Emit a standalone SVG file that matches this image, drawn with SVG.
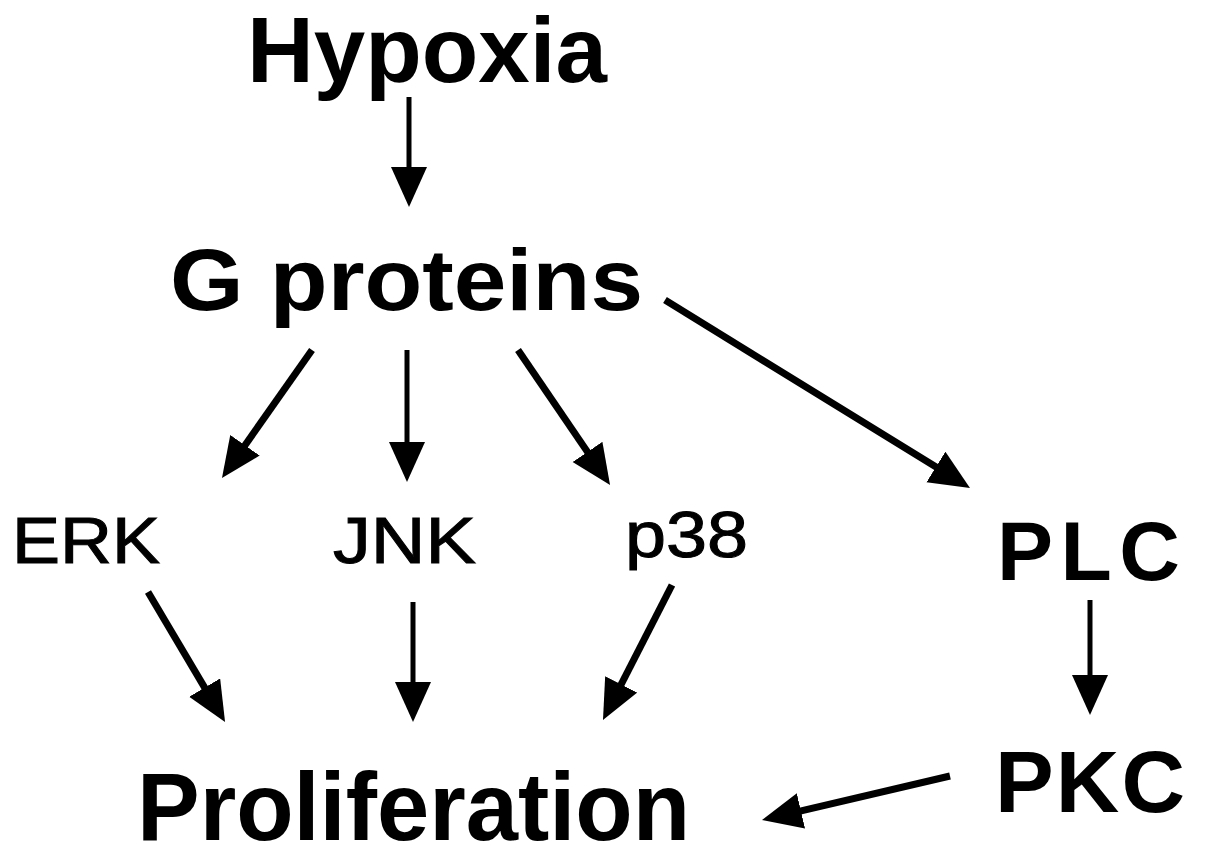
<svg xmlns="http://www.w3.org/2000/svg" width="1205" height="862" viewBox="0 0 1205 862">
<defs>
<style>
.t{font-family:"Liberation Sans",Arial,sans-serif;fill:#000}
.b{font-weight:bold}
.r{stroke:#000;stroke-width:1}
.c{stroke:#000;stroke-width:7;fill:none;stroke-linecap:butt;marker-end:url(#ah)}
.v{stroke-width:5}
</style>
<marker id="ah" markerUnits="userSpaceOnUse" markerWidth="42" markerHeight="38" viewBox="0 0 42 38" refX="25" refY="18" orient="auto">
<path d="M0,0 L40,18 L0,36 z" fill="#000"/>
</marker>
</defs>
<rect width="1205" height="862" fill="#fff"/>
<g id="connectors">
<line class="c v" x1="409" y1="97" x2="409" y2="192"/>
<line class="c" x1="312" y1="350" x2="230.6" y2="465.7"/>
<line class="c v" x1="407" y1="350" x2="407" y2="467"/>
<line class="c" x1="518" y1="350" x2="601.6" y2="472.6"/>
<line class="c" x1="665" y1="300" x2="957.2" y2="480.1"/>
<line class="c" x1="148" y1="592" x2="217.4" y2="709.1"/>
<line class="c v" x1="413" y1="602" x2="413" y2="707"/>
<line class="c" x1="672" y1="585" x2="609.8" y2="706.6"/>
<line class="c v" x1="1090" y1="600" x2="1090" y2="700"/>
<line class="c" x1="950" y1="776" x2="776.6" y2="816.6"/>
</g>
<g id="hypoxia"><text class="t b" x="247" y="82" font-size="93" textLength="360" lengthAdjust="spacingAndGlyphs">Hypoxia</text></g>
<g id="gproteins"><text class="t b" x="170" y="310" font-size="88" textLength="473" lengthAdjust="spacingAndGlyphs">G proteins</text></g>
<g id="erk"><text class="t r" x="12" y="563" font-size="64" textLength="148" lengthAdjust="spacingAndGlyphs">ERK</text></g>
<g id="jnk"><text class="t r" x="333" y="563" font-size="64" textLength="143" lengthAdjust="spacingAndGlyphs">JNK</text></g>
<g id="p38"><text class="t r" x="625" y="557" font-size="64" textLength="123" lengthAdjust="spacingAndGlyphs">p38</text></g>
<g id="plc"><text class="t b" x="997" y="580" font-size="84" textLength="183" lengthAdjust="spacing">PLC</text></g>
<g id="pkc"><text class="t b" x="995" y="812" font-size="88" textLength="190" lengthAdjust="spacing">PKC</text></g>
<g id="proliferation"><text class="t b" x="137" y="840" font-size="96" textLength="553" lengthAdjust="spacingAndGlyphs">Proliferation</text></g>
</svg>
